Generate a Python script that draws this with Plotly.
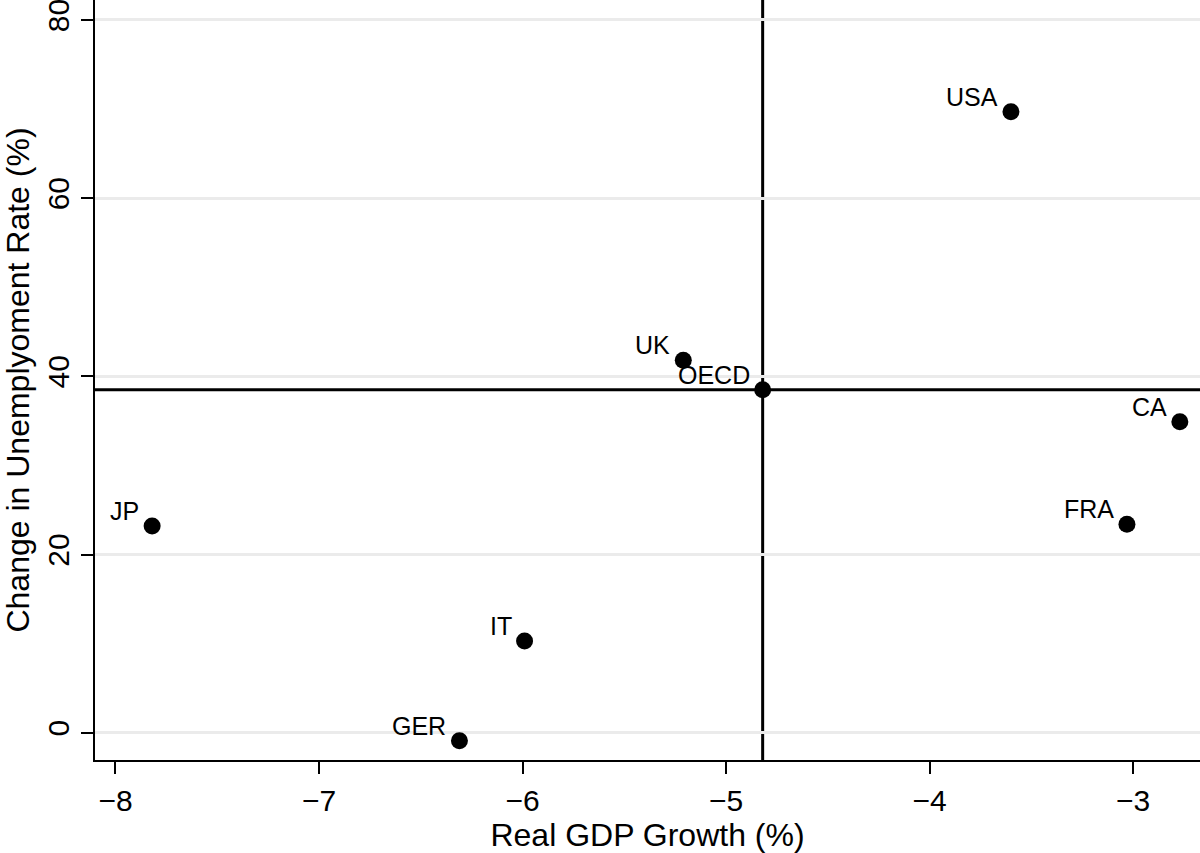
import plotly.graph_objects as go

countries = ["USA", "UK", "OECD", "CA", "FRA", "JP", "IT", "GER"]
gdp_growth = [-3.60, -5.21, -4.82, -2.77, -3.03, -7.82, -5.99, -6.31]
unemp_change = [69.7, 41.8, 38.5, 34.9, 23.4, 23.2, 10.3, -0.9]

x_ticks = [-8, -7, -6, -5, -4, -3]
y_ticks = [0, 20, 40, 60, 80]

FONT = "Liberation Sans, Arial, Helvetica, sans-serif"

oecd_i = countries.index("OECD")
oecd_x = gdp_growth[oecd_i]
oecd_y = unemp_change[oecd_i]

fig = go.Figure()

fig.add_trace(go.Scatter(
    x=gdp_growth, y=unemp_change, mode="markers",
    marker=dict(color="black", size=17, line=dict(width=0)),
    showlegend=False, hoverinfo="text", text=countries,
))

fig.add_shape(type="line", xref="x", yref="paper", x0=oecd_x, x1=oecd_x, y0=0, y1=1,
              line=dict(color="black", width=3), layer="below")
fig.add_shape(type="line", xref="paper", yref="y", x0=0, x1=1, y0=oecd_y, y1=oecd_y,
              line=dict(color="black", width=3), layer="below")

for name, xv, yv in zip(countries, gdp_growth, unemp_change):
    fig.add_annotation(x=xv, y=yv, text=name, showarrow=False,
                       xanchor="right", yanchor="middle", xshift=-11, yshift=15,
                       font=dict(family=FONT, size=25, color="black"))

fig.update_layout(
    width=1200, height=853,
    margin=dict(l=95, r=0, t=0, b=93),
    paper_bgcolor="white", plot_bgcolor="white",
    font=dict(family=FONT, color="black"),
    xaxis=dict(
        range=[-8.1007, -2.671], tickvals=x_ticks,
        showgrid=False, zeroline=False, automargin=False,
        showline=True, linecolor="black", linewidth=2,
        ticks="outside", ticklen=12, tickwidth=2, tickcolor="black",
        ticklabelstandoff=1,
        tickfont=dict(family=FONT, size=30, color="black"),
        title=dict(text="Real GDP Growth (%)", font=dict(family=FONT, size=32, color="black")),
    ),
    yaxis=dict(
        range=[-3.06, 82.24], tickvals=y_ticks,
        showgrid=True, gridcolor="#ebebeb", gridwidth=3, zeroline=False, automargin=False,
        showline=True, linecolor="black", linewidth=2,
        ticks="outside", ticklen=12, tickwidth=2, tickcolor="black",
        tickangle=-90, ticklabeloverflow="allow",
        tickfont=dict(family=FONT, size=30, color="black"),
        title=dict(text="Change in Unemplyoment Rate (%)", font=dict(family=FONT, size=32, color="black")),
    ),
)

fig.write_html(
    "out.html",
    config={"displayModeBar": False},
    post_script="document.body.style.margin='0';document.body.style.overflow='hidden';",
)
